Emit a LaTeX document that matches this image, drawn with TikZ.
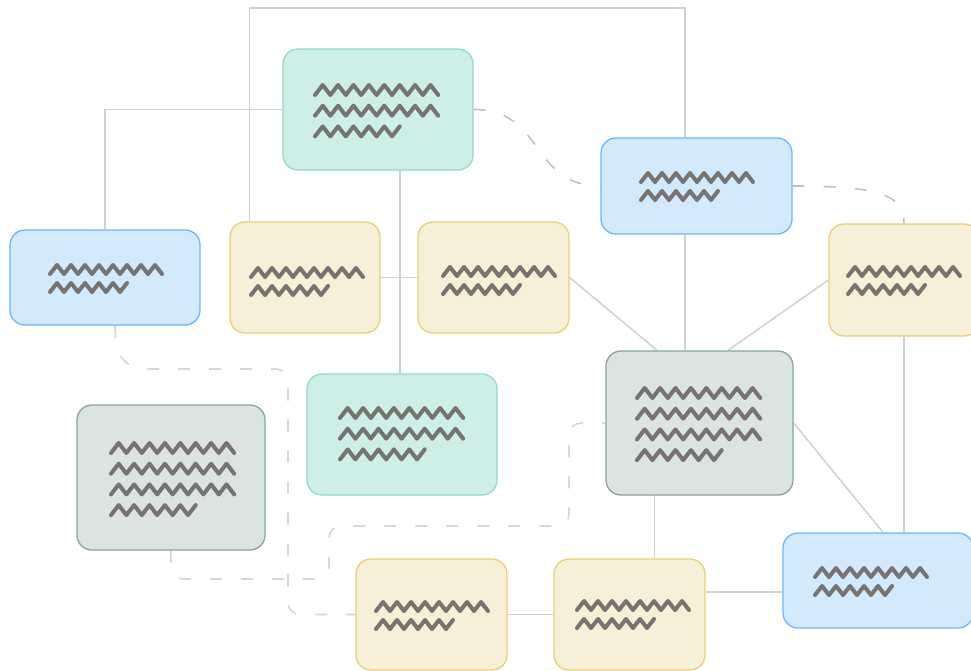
\documentclass[tikz,border=0pt]{standalone}
\usetikzlibrary{backgrounds}
\definecolor{tealfill}{HTML}{CEEEE8}
\definecolor{tealdraw}{HTML}{93D9CC}
\definecolor{bluefill}{HTML}{D3E9FC}
\definecolor{bluedraw}{HTML}{6EB6F7}
\definecolor{yelfill}{HTML}{F7EFD7}
\definecolor{yeldraw}{HTML}{EBCF72}
\definecolor{grayfill}{HTML}{DBE4E1}
\definecolor{graydraw}{HTML}{88A599}
\definecolor{zzcol}{HTML}{787371}
\definecolor{linkcol}{HTML}{CDD1DE}
\definecolor{dashblue}{HTML}{D2D7E3}
\definecolor{dashgray}{HTML}{C2C2C2}
\tikzset{
  box/.style={rectangle, rounded corners=15pt, line width=1.3pt, inner sep=0pt},
  tealbox/.style={box, fill=tealfill, draw=tealdraw},
  bluebox/.style={box, fill=bluefill, draw=bluedraw},
  yelbox/.style={box, fill=yelfill, draw=yeldraw},
  graybox/.style={box, fill=grayfill, draw=graydraw},
  zz/.style={draw=zzcol, line width=4pt, line cap=round, line join=round},
  link/.style={draw=linkcol, line width=1.5pt},
  dlink/.style={draw=dashblue, line width=1.6pt, dash pattern=on 12pt off 19pt, rounded corners=12pt},
  glink/.style={draw=dashgray, line width=1.6pt, dash pattern=on 12pt off 19pt},
}
% one full zigzag line: x, trough y, period, height
\newcommand\zzlong[4]{\draw[zz] (#1,{#2}) \foreach \k in {1,...,8}{ -- ++({#3/2},{-#4}) -- ++({#3/2},{#4})};}
\newcommand\zzshort[4]{\draw[zz] (#1,{#2}) \foreach \k in {1,...,5}{ -- ++({#3/2},{-#4}) -- ++({#3/2},{#4})} -- ++({#3/2},{-#4});}
% two-line block: x, first peak y
\newcommand\zzsmall[2]{\zzlong{#1}{#2+9}{14}{9}\zzshort{#1}{#2+27}{14}{9}}
% big block: x, first peak y, number of long lines
\newcommand\zzbig[3]{\foreach \r in {1,...,#3}{\zzlong{#1}{#2+10+(\r-1)*20.7}{15.4}{10}}\zzshort{#1}{#2+10+#3*20.7}{15.4}{10}}
\begin{document}
\begin{tikzpicture}[x=1pt,y=-1pt]
\useasboundingbox (0,0) rectangle (971,670);
% boxes
\node[tealbox, minimum width=190pt, minimum height=121pt] (A) at (378,109.5) {};
\node[bluebox, minimum width=191pt, minimum height=96pt] (B) at (696.5,186) {};
\node[bluebox, minimum width=190pt, minimum height=95pt] (C) at (105,277.5) {};
\node[yelbox, minimum width=150pt, minimum height=111pt] (D) at (305,277.5) {};
\node[yelbox, minimum width=151pt, minimum height=111pt] (E) at (493.5,277.5) {};
\node[yelbox, minimum width=150pt, minimum height=112pt] (F) at (904,280) {};
\node[graybox, minimum width=187pt, minimum height=144pt] (G) at (699.5,423) {};
\node[tealbox, minimum width=190pt, minimum height=121pt] (H) at (402,434.5) {};
\node[graybox, minimum width=188pt, minimum height=145pt] (I) at (171,477.5) {};
\node[yelbox, minimum width=151pt, minimum height=111pt] (J) at (431.5,614.5) {};
\node[yelbox, minimum width=151pt, minimum height=111pt] (K) at (629.5,614.5) {};
\node[bluebox, minimum width=190pt, minimum height=95pt] (L) at (878,580.5) {};
% placeholder text lines
\zzbig{315}{85}{2}
\zzbig{637}{388}{3}
\zzbig{340}{408}{2}
\zzbig{111}{443}{3}
\zzsmall{641}{173}
\zzsmall{50}{265}
\zzsmall{251}{268}
\zzsmall{443}{267}
\zzsmall{848}{267}
\zzsmall{376}{602}
\zzsmall{577}{601}
\zzsmall{815}{568}
% connectors
\coordinate (dtop) at ([xshift=-55.5pt]D.north);
\coordinate (btop) at ([xshift=-11.5pt]B.north);
\coordinate (bbot) at ([xshift=-11.5pt]B.south);
\coordinate (abot) at ([xshift=22pt]A.south);
\coordinate (gbot) at ([xshift=-45pt]G.south);
\coordinate (kout) at ([yshift=22.5pt]K.east);
\coordinate (ctail) at ([xshift=10pt]C.south);
\coordinate (topbend) at (400,8);
\begin{scope}[on background layer]
\fill[white] (0,0) rectangle (971,670);
\draw[link] (C.north) |- (A.west);
\draw[link] (dtop) |- (topbend) -| (btop);
\draw[link] (abot) -- (abot |- H.north);
\draw[link] (D.east) -- (E.west);
\draw[link] (E.east) -- ([xshift=-42.5pt]G.north);
\draw[link] (bbot) -- (bbot |- G.north);
\draw[link] (F.west) -- ([xshift=28.5pt]G.north);
\draw[link] (F.south) -- (F.south |- L.north);
\draw[link] (G.east) -- ([xshift=5pt]L.north);
\draw[link] (gbot) -- (gbot |- K.north);
\draw[link] (J.east) -- (K.west);
\draw[link] (kout) -- (kout -| L.west);
\draw[glink] (A.east) .. controls (545,109.5) and (530,186) .. (B.west);
\draw[glink] (B.east) .. controls (880,186) and (904,195) .. (F.north);
\draw[dlink] (ctail) .. controls (115,362) and (128,369) .. (165,369) -- (288,369) -- (288,614.5) -- (J.west);
\draw[dlink] (I.south) -- (171,579) -- (329,579) -- (329,526) -- (569,526) -- (569,423) -- (G.west);
\end{scope}
\end{tikzpicture}
\end{document}
